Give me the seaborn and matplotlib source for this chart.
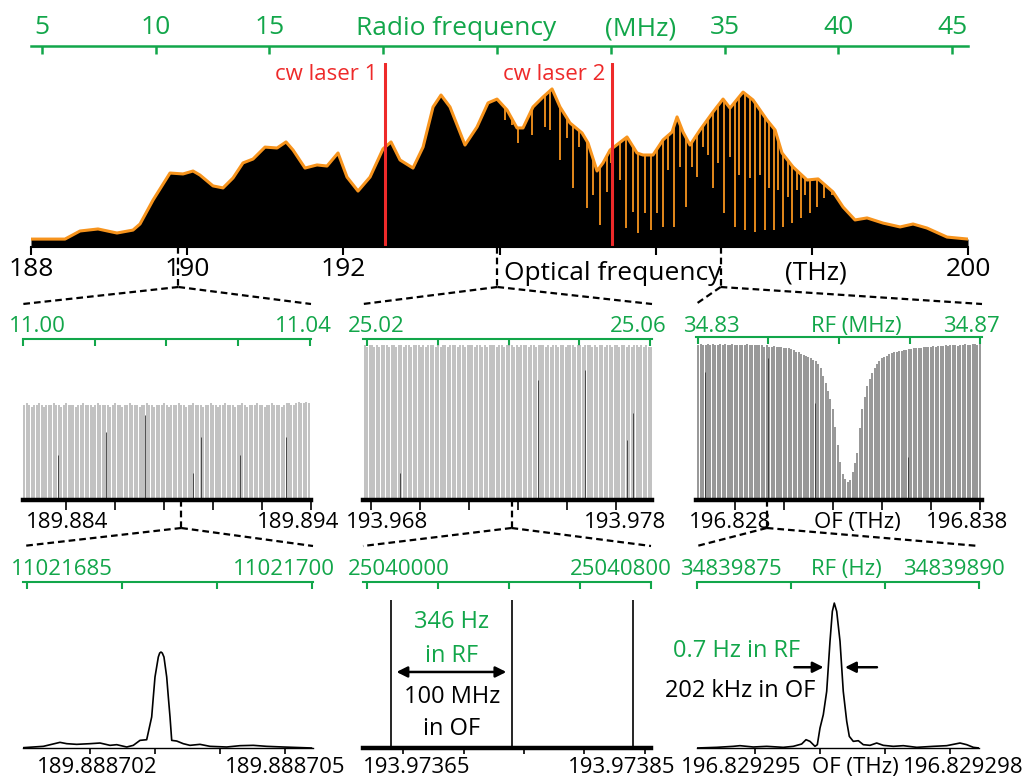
import numpy as np
import matplotlib
matplotlib.use("Agg")
import matplotlib.pyplot as plt
from matplotlib.lines import Line2D
import seaborn as sns

# ---------------------------------------------------------------- data
# Broadband dual-comb spectrum: envelope, optical frequency (THz) vs normalised power
env_thz = [188.000, 188.435, 188.628, 188.858, 189.101, 189.306, 189.396, 189.563, 189.780, 189.947,
           190.075, 190.164, 190.331, 190.459, 190.587, 190.715, 190.843, 190.997, 191.151, 191.266,
           191.356, 191.509, 191.663, 191.791, 191.932, 192.047, 192.188, 192.342, 192.508, 192.611,
           192.726, 192.892, 193.021, 193.149, 193.251, 193.366, 193.558, 193.712, 193.853, 193.968,
           194.096, 194.224, 194.301, 194.429, 194.557, 194.673, 194.775, 194.903, 195.057, 195.134,
           195.249, 195.326, 195.416, 195.633, 195.761, 195.838, 195.966, 196.094, 196.210, 196.274,
           196.350, 196.440, 196.568, 196.735, 196.863, 196.952, 197.119, 197.247, 197.426, 197.529,
           197.618, 197.759, 197.939, 198.080, 198.272, 198.400, 198.553, 198.707, 198.912, 199.130,
           199.296, 199.475, 199.731, 200.000]
env_amp = [0.043, 0.043, 0.087, 0.098, 0.076, 0.092, 0.125, 0.255, 0.402, 0.397,
           0.413, 0.391, 0.332, 0.321, 0.375, 0.457, 0.478, 0.543, 0.538, 0.571,
           0.527, 0.429, 0.446, 0.440, 0.511, 0.380, 0.304, 0.380, 0.533, 0.571,
           0.473, 0.429, 0.543, 0.761, 0.826, 0.761, 0.554, 0.652, 0.783, 0.804,
           0.745, 0.647, 0.647, 0.761, 0.815, 0.859, 0.761, 0.674, 0.620, 0.565,
           0.413, 0.457, 0.527, 0.598, 0.511, 0.500, 0.500, 0.582, 0.625, 0.707,
           0.625, 0.554, 0.636, 0.734, 0.804, 0.755, 0.842, 0.799, 0.690, 0.636,
           0.511, 0.435, 0.364, 0.370, 0.299, 0.217, 0.147, 0.158, 0.130, 0.109,
           0.125, 0.103, 0.054, 0.043]

# Absorption lines cut into the envelope (position THz, bottom of the line)
dip_thz = [194.071, 194.160, 194.237, 194.416, 194.583, 194.647, 194.775, 194.865, 194.942, 195.018,
           195.121, 195.198, 195.287, 195.377, 195.428, 195.544, 195.620, 195.710, 195.774, 195.864,
           195.941, 196.018, 196.094, 196.158, 196.235, 196.312, 196.389, 196.466, 196.530, 196.607,
           196.671, 196.735, 196.799, 196.876, 196.952, 197.016, 197.068, 197.145, 197.209, 197.273,
           197.337, 197.401, 197.452, 197.516, 197.567, 197.631, 197.695, 197.747, 197.811, 197.862,
           197.913, 197.977, 198.067, 198.156, 198.259]
dip_amp = [0.690, 0.663, 0.565, 0.609, 0.652, 0.636, 0.473, 0.592, 0.321, 0.543,
           0.212, 0.283, 0.120, 0.299, 0.457, 0.364, 0.103, 0.190, 0.076, 0.185,
           0.092, 0.185, 0.109, 0.418, 0.109, 0.435, 0.217, 0.435, 0.380, 0.543,
           0.500, 0.321, 0.457, 0.185, 0.489, 0.109, 0.391, 0.092, 0.375, 0.082,
           0.391, 0.092, 0.321, 0.092, 0.310, 0.109, 0.272, 0.130, 0.310, 0.158,
           0.283, 0.185, 0.217, 0.266, 0.283]

cw_thz = [192.53, 195.44]
cw_names = ["cw laser 1", "cw laser 2"]

of_ticks = [188, 190, 192, 194, 196, 198, 200]
of_ticklabels = ["188", "190", "192", "", "", "", "200"]
rf_ticks = [5, 10, 15, 20, 25, 30, 35, 40, 45]
rf_ticklabels = ["5", "10", "15", "", "", "", "35", "40", "45"]
rf_span_mhz = [4.52, 45.70]          # RF frequency at 188 THz and at 200 THz

# Comb modes, 100 MHz apart in the optical domain
comb_step_thz = 1e-4
combA_start = 189.882303
combA_amp = [0.59, 0.60, 0.59, 0.58, 0.59, 0.59, 0.60, 0.59, 0.58, 0.59,
             0.59, 0.59, 0.60, 0.59, 0.59, 0.58, 0.59, 0.60, 0.59, 0.59,
             0.59, 0.58, 0.59, 0.59, 0.60, 0.59, 0.59, 0.59, 0.58, 0.59,
             0.60, 0.59, 0.59, 0.59, 0.59, 0.58, 0.59, 0.60, 0.59, 0.59,
             0.58, 0.59, 0.59, 0.60, 0.59, 0.59, 0.59, 0.58, 0.59, 0.59,
             0.60, 0.59, 0.59, 0.58, 0.59, 0.59, 0.59, 0.60, 0.59, 0.58,
             0.59, 0.59, 0.59, 0.60, 0.59, 0.59, 0.58, 0.59, 0.59, 0.60,
             0.59, 0.59, 0.59, 0.58, 0.59, 0.59, 0.60, 0.59, 0.59, 0.58,
             0.59, 0.59, 0.60, 0.59, 0.59, 0.59, 0.58, 0.59, 0.59, 0.60,
             0.59, 0.58, 0.59, 0.59, 0.59, 0.60, 0.59, 0.59, 0.58, 0.59,
             0.59, 0.60, 0.59, 0.59, 0.59, 0.58, 0.59, 0.60, 0.60, 0.59,
             0.59, 0.60, 0.61, 0.60, 0.60, 0.61, 0.60]
weakA_thz = [189.883673, 189.885633, 189.887224, 189.889184, 189.889510, 189.891102, 189.892980]
weakA_amp = [0.28, 0.42, 0.53, 0.17, 0.39, 0.28, 0.39]

combB_start = 193.96774
combB_amp = [0.96, 0.95, 0.96, 0.96, 0.95, 0.96, 0.95, 0.96, 0.96, 0.96,
             0.95, 0.96, 0.96, 0.95, 0.96, 0.96, 0.95, 0.96, 0.96, 0.95,
             0.96, 0.96, 0.96, 0.95, 0.96, 0.95, 0.96, 0.96, 0.96, 0.95,
             0.96, 0.95, 0.96, 0.96, 0.95, 0.96, 0.96, 0.96, 0.95, 0.96,
             0.96, 0.95, 0.96, 0.96, 0.96, 0.95, 0.96, 0.96, 0.95, 0.96,
             0.95, 0.96, 0.96, 0.96, 0.95, 0.96, 0.96, 0.95, 0.96, 0.96,
             0.96, 0.95, 0.96, 0.95, 0.96, 0.96, 0.96, 0.95, 0.96, 0.96,
             0.95, 0.96, 0.96, 0.96, 0.95, 0.96, 0.95, 0.96, 0.96, 0.95,
             0.96, 0.96, 0.95, 0.96, 0.96, 0.96, 0.95, 0.96, 0.96, 0.95,
             0.96, 0.96, 0.96, 0.95, 0.96, 0.95, 0.96, 0.96, 0.95, 0.96,
             0.96, 0.95, 0.96, 0.96, 0.95, 0.96, 0.96, 0.95, 0.96, 0.95,
             0.96, 0.96, 0.95, 0.96, 0.95, 0.96, 0.95, 0.95]
weakB_thz = [193.969184, 193.974816, 193.976735, 193.978449, 193.978694]
weakB_amp = [0.17, 0.745, 0.81, 0.37, 0.54]

combC_start = 196.8264962
combC_amp = [0.95, 0.96, 0.95, 0.95, 0.96, 0.95, 0.96, 0.95, 0.95, 0.96,
             0.95, 0.96, 0.95, 0.95, 0.96, 0.95, 0.95, 0.95, 0.95, 0.95,
             0.96, 0.95, 0.95, 0.95, 0.95, 0.95, 0.95, 0.94, 0.95, 0.94,
             0.94, 0.944, 0.94, 0.94, 0.94, 0.935, 0.93, 0.93, 0.928, 0.92,
             0.91, 0.905, 0.895, 0.89, 0.882, 0.875, 0.87, 0.86, 0.85, 0.835,
             0.81, 0.76, 0.72, 0.67, 0.62, 0.56, 0.45, 0.34, 0.235, 0.16,
             0.13, 0.11, 0.12, 0.17, 0.23, 0.29, 0.44, 0.56, 0.63, 0.70,
             0.745, 0.78, 0.81, 0.833, 0.85, 0.87, 0.878, 0.885, 0.895, 0.903,
             0.91, 0.91, 0.915, 0.915, 0.92, 0.92, 0.925, 0.925, 0.93, 0.93,
             0.935, 0.935, 0.94, 0.94, 0.94, 0.94, 0.945, 0.94, 0.945, 0.945,
             0.945, 0.95, 0.945, 0.95, 0.95, 0.95, 0.945, 0.95, 0.95, 0.955,
             0.95, 0.95, 0.955, 0.955, 0.95, 0.96]
weakC_thz = [196.826776, 196.829347, 196.831265, 196.835061]
weakC_amp = [0.785, 0.87, 0.595, 0.264]

# Single comb modes, offsets in MHz from the base optical frequency
modeD_base_thz = 189.8887
modeD_mhz = [0.974, 1.282, 1.538, 1.642, 1.795, 2.000, 2.154, 2.308, 2.411, 2.565,
             2.666, 2.769, 2.872, 2.949, 2.974, 3.000, 3.051, 3.072, 3.092, 3.112,
             3.138, 3.180, 3.205, 3.231, 3.257, 3.334, 3.435, 3.538, 3.692, 3.846,
             4.103, 4.308, 4.512, 4.718, 4.974, 5.411]
modeD_amp = [0.002, 0.010, 0.034, 0.026, 0.022, 0.026, 0.030, 0.016, 0.020, 0.006,
             0.016, 0.046, 0.050, 0.187, 0.307, 0.428, 0.548, 0.572, 0.578, 0.572,
             0.548, 0.428, 0.307, 0.187, 0.046, 0.042, 0.026, 0.016, 0.022, 0.010,
             0.006, 0.014, 0.016, 0.010, 0.006, 0.0]

modesE_base_thz = 193.9736
modesE_mhz = [40, 140, 240]
modesE_amp = [0.89, 0.89, 0.89]
spacing_rf_text = ["346 Hz", "in RF"]
spacing_of_text = ["100 MHz", "in OF"]

modeF_base_thz = 196.82929
modeF_mhz = [4.103, 4.411, 4.666, 4.769, 4.974, 5.180, 5.435, 5.589, 5.718, 5.785,
             5.846, 5.923, 5.959, 6.000, 6.051, 6.103, 6.154, 6.190, 6.220, 6.257,
             6.308, 6.358, 6.411, 6.451, 6.512, 6.590, 6.666, 6.769, 6.872, 6.974,
             7.128, 7.282, 7.488, 7.743, 7.949, 8.154, 8.257, 8.359, 8.446]
modeF_amp = [0.0, 0.004, 0.010, 0.014, 0.006, 0.010, 0.004, 0.010, 0.024, 0.050,
             0.040, 0.010, 0.020, 0.120, 0.201, 0.341, 0.643, 0.823, 0.873, 0.823,
             0.643, 0.341, 0.161, 0.070, 0.040, 0.044, 0.020, 0.016, 0.030, 0.016,
             0.010, 0.014, 0.004, 0.010, 0.014, 0.030, 0.020, 0.004, 0.0]
linewidth_f_khz = 202
linewidth_text = ["0.7 Hz in RF", "202 kHz in OF"]

# ---------------------------------------------------------------- style
sns.set_theme(style="white")
plt.rcParams["font.family"] = ["Open Sans", "DejaVu Sans"]

GREEN = "#12a64a"
RED = "#ee2a2a"
ORANGE = "#f7941d"
W, H = 1028, 778
TOP_FS = 19
PANEL_FS = 16
NOTE_FS = 17

fig = plt.figure(figsize=(W / 100, H / 100), dpi=100)


def box(left, top, right, bottom):
    return [left / W, 1 - bottom / H, (right - left) / W, (bottom - top) / H]


def ftext(x, y, s, color="black", size=PANEL_FS, ha="center"):
    fig.text(x / W, 1 - y / H, s, color=color, fontsize=size, ha=ha, va="baseline")


def linear_pair(of_lim, rf_lim):
    k = (rf_lim[1] - rf_lim[0]) / (of_lim[1] - of_lim[0])
    return (lambda x: rf_lim[0] + (np.asarray(x) - of_lim[0]) * k,
            lambda r: of_lim[0] + (np.asarray(r) - rf_lim[0]) / k)


def clean(ax):
    for s in ["left", "right", "top"]:
        ax.spines[s].set_visible(False)
    ax.set_yticks([])
    ax.set_ylim(0, 1)
    ax.set_xlabel("")
    ax.set_ylabel("")


def green_axis(ax, of_lim, rf_lim, ticks, length=5):
    sec = ax.secondary_xaxis("top", functions=linear_pair(of_lim, rf_lim))
    sec.set_xticks(ticks)
    sec.set_xticklabels([""] * len(ticks))
    for sp in sec.spines.values():
        sp.set_color(GREEN)
        sp.set_linewidth(1.5)
    sec.tick_params(axis="x", colors=GREEN, direction="in", length=length, width=1.5)
    return sec


# ---------------------------------------------------------------- overview spectrum
ax = fig.add_axes(box(31, 63, 968, 247))
ax.fill_between(env_thz, 0, env_amp, color="black", lw=0)
dip_top = np.interp(dip_thz, env_thz, env_amp)
ax.vlines(dip_thz, dip_amp, dip_top, colors=ORANGE, lw=1.3)
sns.lineplot(x=env_thz, y=env_amp, ax=ax, color=ORANGE, lw=2.2, estimator=None)
for f, name in zip(cw_thz, cw_names):
    ax.axvline(f, color=RED, lw=2.2)
    ax.annotate(name, xy=(f, 1.0), xycoords=("data", "axes fraction"),
                xytext=(-5, -12.5), textcoords="offset points", ha="right", va="baseline",
                color=RED, fontsize=16)
ax.set_xlim(188, 200)
clean(ax)
ax.spines["bottom"].set_linewidth(1.5)
ax.spines["bottom"].set_color("black")
ax.set_xticks(of_ticks)
ax.set_xticklabels(of_ticklabels)
ax.tick_params(axis="x", direction="out", length=6, width=1.5, colors="black",
               labelsize=TOP_FS, pad=1, bottom=True)

rf_sec = ax.secondary_xaxis(1 + 17 / 184, functions=linear_pair([188, 200], rf_span_mhz))
rf_sec.set_xticks(rf_ticks)
rf_sec.set_xticklabels(rf_ticklabels)
for sp in rf_sec.spines.values():
    sp.set_color(GREEN)
    sp.set_linewidth(1.8)
rf_sec.tick_params(axis="x", colors=GREEN, direction="in", length=6, width=1.8,
                   labelsize=TOP_FS, pad=4)
ftext(456, 35, "Radio frequency", GREEN, TOP_FS)
ftext(641, 35, "(MHz)", GREEN, TOP_FS)
ftext(613, 280, "Optical frequency", "black", TOP_FS)
ftext(816, 280, "(THz)", "black", TOP_FS)


# ---------------------------------------------------------------- comb zooms
def comb_panel(pbox, of_lim, start, amps, weak_f, weak_a, color, rf_lim, rf_ticks_p, of_ticks_p):
    a = fig.add_axes(box(*pbox))
    pos = start + comb_step_thz * np.arange(len(amps))
    a.vlines(pos, 0, amps, colors=color, lw=1.25)
    a.vlines(weak_f, 0, weak_a, colors="#333333", lw=0.6)
    a.set_xlim(of_lim)
    clean(a)
    a.spines["bottom"].set_linewidth(3.2)
    a.spines["bottom"].set_color("black")
    a.set_xticks(of_ticks_p)
    a.set_xticklabels([""] * len(of_ticks_p))
    a.tick_params(axis="x", direction="out", length=7, width=1.2, colors="black", bottom=True)
    green_axis(a, of_lim, rf_lim, rf_ticks_p)
    return a


axA = comb_panel((23, 339, 311, 500), (189.8822449, 189.894), combA_start, combA_amp,
                 weakA_thz, weakA_amp, "#b9b9b9", (11.0, 11.04014),
                 [11.00, 11.01, 11.02, 11.03, 11.04], [189.884, 189.886, 189.888, 189.890, 189.892, 189.894])
axB = comb_panel((363, 339, 652, 500), (193.9676735, 193.979469), combB_start, combB_amp,
                 weakB_thz, weakB_amp, "#b9b9b9", (25.01943, 25.06028),
                 [25.02, 25.03, 25.04, 25.05, 25.06], [193.968, 193.970, 193.972, 193.974, 193.976, 193.978])
axC = comb_panel((696, 337, 982, 500), (196.826408, 196.838082), combC_start, combC_amp,
                 weakC_thz, weakC_amp, "#8a8a8a", (34.82972, 34.87028),
                 [34.83, 34.84, 34.85, 34.86, 34.87], [196.828, 196.830, 196.832, 196.834, 196.836, 196.838])

ftext(37, 332, "11.00", GREEN); ftext(303, 332, "11.04", GREEN)
ftext(376, 332, "25.02", GREEN); ftext(638, 332, "25.06", GREEN)
ftext(711, 332, "34.83", GREEN); ftext(856, 332, "RF (MHz)", GREEN); ftext(971, 332, "34.87", GREEN)
ftext(67, 528, "189.884"); ftext(298, 528, "189.894")
ftext(387, 528, "193.968"); ftext(625, 528, "193.978")
ftext(730, 528, "196.828"); ftext(857, 528, "OF (THz)"); ftext(967, 528, "196.838")


# ---------------------------------------------------------------- single-mode zooms
def mode_axes(pbox, base, mhz_lim, rf_lim, rf_ticks_p, of_ticks_mhz, spine_lw):
    a = fig.add_axes(box(*pbox))
    of_lim = (base + mhz_lim[0] * 1e-6, base + mhz_lim[1] * 1e-6)
    a.set_xlim(of_lim)
    clean(a)
    a.spines["bottom"].set_linewidth(spine_lw)
    a.spines["bottom"].set_color("black")
    a.set_xticks([base + m * 1e-6 for m in of_ticks_mhz])
    a.set_xticklabels([""] * len(of_ticks_mhz))
    a.tick_params(axis="x", direction="out", length=4.5, width=1.2, colors="black", bottom=True)
    green_axis(a, of_lim, rf_lim, rf_ticks_p)
    return a


axD = mode_axes((23, 582, 313, 748), modeD_base_thz, (0.969, 5.431), (11021684.79, 11021700.05),
                [11021685, 11021690, 11021695, 11021700], [2, 3, 4, 5], 1.0)
sns.lineplot(x=[modeD_base_thz + m * 1e-6 for m in modeD_mhz], y=modeD_amp, ax=axD,
             color="black", lw=1.2, estimator=None, sort=False)
axD.set_xlabel(""); axD.set_ylabel("")

axE = mode_axes((363, 582, 651, 748), modesE_base_thz, (16.9, 255.0), (25039988.7, 25040800.0),
                [25040000, 25040200, 25040400, 25040600, 25040800], [50, 100, 150, 200, 250], 3.2)
e_pos = [modesE_base_thz + m * 1e-6 for m in modesE_mhz]
axE.vlines(e_pos, 0, modesE_amp, colors="black", lw=1.2)
axE.annotate("", xy=(e_pos[0], 0.458), xytext=(e_pos[1], 0.458),
             arrowprops=dict(arrowstyle="<|-|>", color="black", lw=1.8, mutation_scale=16,
                             shrinkA=4, shrinkB=4))

axF = mode_axes((697, 582, 979, 748), modeF_base_thz, (4.108, 8.446), (34839875, 34839890),
                [34839875, 34839880, 34839885, 34839890], [5, 6, 7, 8], 1.0)
f_x = [modeF_base_thz + m * 1e-6 for m in modeF_mhz]
sns.lineplot(x=f_x, y=modeF_amp, ax=axF, color="black", lw=1.2, estimator=None, sort=False)
axF.set_xlabel(""); axF.set_ylabel("")
f_peak = int(np.argmax(modeF_amp))
f_center = f_x[f_peak]
half = modeF_amp[f_peak] / 2 + 0.05
left_edge = f_center - linewidth_f_khz * 1e-9 / 2
right_edge = f_center + linewidth_f_khz * 1e-9 / 2
axF.annotate("", xy=(left_edge, half), xytext=(-24, 0), textcoords="offset points",
             arrowprops=dict(arrowstyle="-|>", color="black", lw=1.8, mutation_scale=16,
                             shrinkA=0, shrinkB=3))
axF.annotate("", xy=(right_edge, half), xytext=(26, 0), textcoords="offset points",
             arrowprops=dict(arrowstyle="-|>", color="black", lw=1.8, mutation_scale=16,
                             shrinkA=0, shrinkB=3))

ftext(62, 575, "11021685", GREEN); ftext(284, 575, "11021700", GREEN)
ftext(399, 575, "25040000", GREEN); ftext(621, 575, "25040800", GREEN)
ftext(731, 575, "34839875", GREEN); ftext(846, 575, "RF (Hz)", GREEN); ftext(954, 575, "34839890", GREEN)
ftext(97, 773, "189.888702"); ftext(285, 773, "189.888705")
ftext(417, 773, "193.97365"); ftext(622, 773, "193.97385")
ftext(741, 773, "196.829295"); ftext(855, 773, "OF (THz)"); ftext(963, 773, "196.829298")

ftext(452, 628, spacing_rf_text[0], GREEN, NOTE_FS); ftext(452, 662, spacing_rf_text[1], GREEN, NOTE_FS)
ftext(452, 703, spacing_of_text[0], "black", NOTE_FS); ftext(452, 735, spacing_of_text[1], "black", NOTE_FS)
ftext(737, 657, linewidth_text[0], GREEN, NOTE_FS); ftext(740, 697, linewidth_text[1], "black", NOTE_FS)


# ---------------------------------------------------------------- dashed zoom connectors
def connector(src, x_src, dst, drop, rise):
    to_fig = fig.transFigure.inverted()
    x0, y0 = src.transData.transform((x_src, 0))
    bb = dst.get_window_extent()
    pts = [(x0, y0), (x0, y0 - drop)]
    left = (bb.x0, bb.y1 + rise)
    right = (bb.x1, bb.y1 + rise)
    kw = dict(color="black", lw=1.6, linestyle=(0, (3, 1.8)))
    for seg in ([pts[0], pts[1]], [pts[1], left], [pts[1], right]):
        (fx0, fy0), (fx1, fy1) = to_fig.transform(seg[0]), to_fig.transform(seg[1])
        fig.add_artist(Line2D([fx0, fx1], [fy0, fy1], transform=fig.transFigure, **kw))


connector(ax, np.mean(axA.get_xlim()), axA, 40, 35)
connector(ax, np.mean(axB.get_xlim()), axB, 40, 35)
connector(ax, np.mean(axC.get_xlim()), axC, 40, 33)
connector(axA, np.mean(axD.get_xlim()), axD, 28, 36)
connector(axB, np.mean(axE.get_xlim()), axE, 28, 36)
connector(axC, np.mean(axF.get_xlim()), axF, 28, 36)

fig.savefig("out.png", dpi=100)
